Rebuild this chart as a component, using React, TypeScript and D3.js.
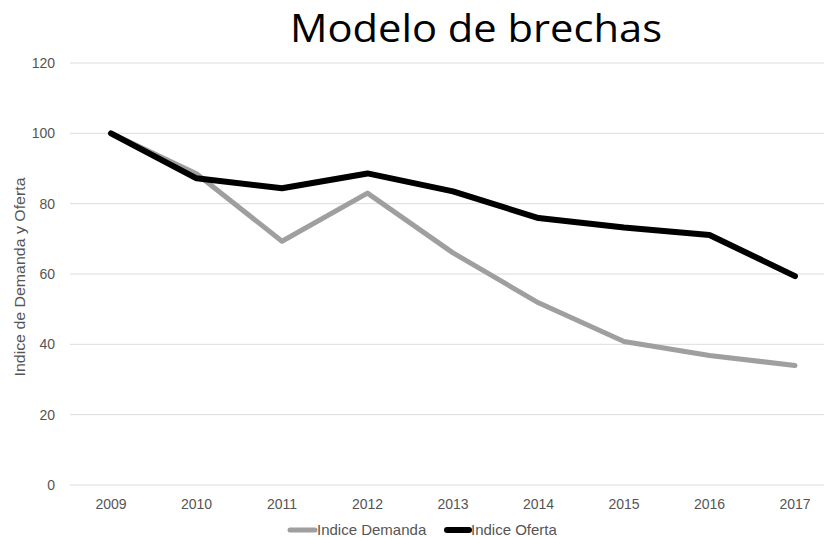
import React from 'react';
import * as d3 from 'd3';

const years = ['2009', '2010', '2011', '2012', '2013', '2014', '2015', '2016', '2017'];
const demanda = [100, 88.5, 69.3, 83, 66, 51.8, 40.8, 36.8, 34];
const oferta = [100, 87.2, 84.4, 88.6, 83.5, 75.9, 73.2, 71.1, 59.4];
const yTicks = [0, 20, 40, 60, 80, 100, 120];

const W = 826;
const H = 537;
const left = 70;
const right = 824;
const top = 63;
const bottom = 485;

const App = () => {
  const x = d3.scalePoint<string>().domain(years).range([111, 795]);
  const y = d3.scaleLinear().domain([0, 120]).range([bottom, top]);
  const line = d3
    .line<number>()
    .x((_, i) => x(years[i]) as number)
    .y((d) => y(d));

  const font = "'Liberation Sans', Arial, sans-serif";

  return (
    <svg width={W} height={H} style={{ position: 'absolute', left: 0, top: 0 }}>
      <rect width={W} height={H} fill='#fff' />
      <text
        x={476}
        y={42}
        textAnchor='middle'
        fontFamily="'Open Sans', sans-serif"
        fontSize={38}
        textLength={372}
        lengthAdjust='spacingAndGlyphs'
        fill='#000'
      >
        Modelo de brechas
      </text>
      {yTicks.map((t) => (
        <g key={t}>
          <line x1={left} x2={right} y1={y(t)} y2={y(t)} stroke='#dcdcdc' strokeWidth={1} />
          <text
            x={55}
            y={y(t)}
            dy='0.35em'
            textAnchor='end'
            fontFamily={font}
            fontSize={14}
            fill='#555'
          >
            {t}
          </text>
        </g>
      ))}
      {years.map((yr) => (
        <text
          key={yr}
          x={x(yr)}
          y={509}
          textAnchor='middle'
          fontFamily={font}
          fontSize={14}
          fill='#555'
        >
          {yr}
        </text>
      ))}
      <text
        transform={`translate(25, 277) rotate(-90)`}
        textAnchor='middle'
        fontFamily={font}
        fontSize={14}
        textLength={199}
        lengthAdjust='spacingAndGlyphs'
        fill='#555'
      >
        Indice de Demanda y Oferta
      </text>
      <path
        d={line(demanda) || ''}
        fill='none'
        stroke='#a09e9e'
        strokeWidth={5}
        strokeLinecap='round'
        strokeLinejoin='round'
      />
      <path
        d={line(oferta) || ''}
        fill='none'
        stroke='#000'
        strokeWidth={6}
        strokeLinecap='round'
        strokeLinejoin='round'
      />
      <g fontFamily={font} fontSize={15} fill='#555'>
        <line x1={290} x2={315} y1={530} y2={530} stroke='#a09e9e' strokeWidth={5} strokeLinecap='round' />
        <text x={317} y={535}>Indice Demanda</text>
        <line x1={447} x2={469} y1={530} y2={530} stroke='#000' strokeWidth={6} strokeLinecap='round' />
        <text x={471} y={535}>Indice Oferta</text>
      </g>
    </svg>
  );
};

export default App;
